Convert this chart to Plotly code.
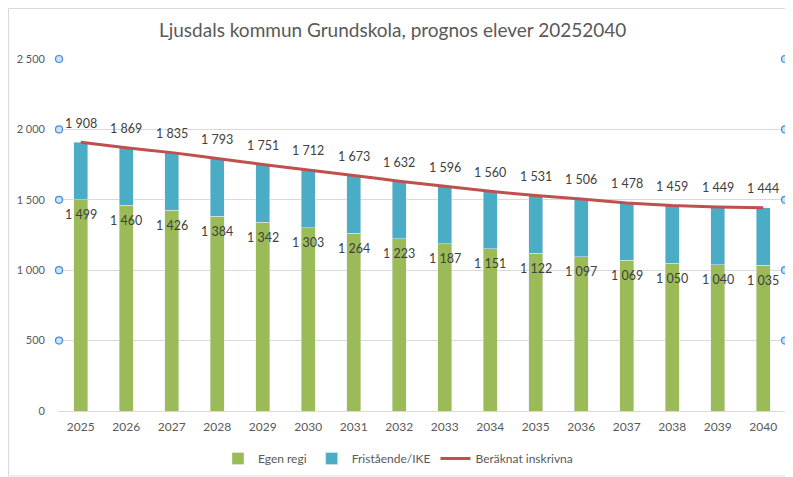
import plotly.graph_objects as go

years = [str(y) for y in range(2025, 2041)]
egen_regi = [1499, 1460, 1426, 1384, 1342, 1303, 1264, 1223, 1187, 1151, 1122, 1097, 1069, 1050, 1040, 1035]
total = [1908, 1869, 1835, 1793, 1751, 1712, 1673, 1632, 1596, 1560, 1531, 1506, 1478, 1459, 1449, 1444]
fristaende = [t - e for t, e in zip(total, egen_regi)]
y_ticks = [0, 500, 1000, 1500, 2000, 2500]
handle_levels = [500, 1000, 1500, 2000, 2500]

FONT = "Lato"
def fmt(v):
    return f"{v:,}".replace(",", " ")

fig = go.Figure()
fig.add_trace(go.Bar(x=years, y=egen_regi, name="Egen regi", marker_color="#9BBB59"))
fig.add_trace(go.Bar(x=years, y=fristaende, name="Fristående/IKE", marker_color="#4BACC6"))
fig.add_trace(go.Scatter(x=years, y=total, name="Beräknat inskrivna", mode="lines",
                         line=dict(color="#C0504D", width=3, shape="spline", smoothing=0.3)))
# selection handles (Excel artefact) on an overlay axis spanning the plot width
fig.add_trace(go.Scatter(x=[0.0014] * len(handle_levels) + [1.0027] * len(handle_levels),
                         y=handle_levels + handle_levels, xaxis="x2", mode="markers",
                         showlegend=False, hoverinfo="skip", cliponaxis=False,
                         marker=dict(size=7, color="#CFE3F7", line=dict(color="#3C8FDC", width=1.2))))

ann = []
for i, v in enumerate(total):
    ann.append(dict(x=i, y=v, text=fmt(v), showarrow=False, yshift=19,
                    font=dict(family=FONT, size=12.5, color="#404040")))
for i, v in enumerate(egen_regi):
    ann.append(dict(x=i, y=v, text=fmt(v), showarrow=False, yshift=-15,
                    font=dict(family=FONT, size=12.5, color="#404040")))

shapes = [dict(type="rect", xref="paper", yref="paper", x0=-0.068, x1=1.0082, y0=-0.1847, y1=1.1435,
               line=dict(color="#D9D9D9", width=1), layer="below")]

# page body has an 8px margin, so the figure is sized/positioned to compensate
fig.update_layout(
    width=785, height=469,
    margin=dict(l=50, r=7, t=51, b=66, autoexpand=False),
    paper_bgcolor="white", plot_bgcolor="white",
    barmode="stack", bargap=0.69,
    title=dict(text="Ljusdals kommun Grundskola, prognos elever 20252040", x=0.49, xanchor="center",
               y=1 - 22 / 469, yanchor="middle", automargin=False,
               font=dict(family=FONT, size=19, color="#595959")),
    font=dict(family=FONT, size=12, color="#595959"),
    legend=dict(orientation="h", x=0.467, xanchor="center", y=-0.135, yanchor="middle",
                font=dict(family=FONT, size=12, color="#595959"), traceorder="normal"),
    annotations=ann, shapes=shapes,
    separators=". ",
    xaxis2=dict(overlaying="x", range=[0, 1.004], visible=False),
    xaxis=dict(type="category", range=[-0.5, len(years) - 0.5], showline=True, linecolor="#D9D9D9",
               linewidth=1, showgrid=False, automargin=False, ticklabelstandoff=5,
               tickfont=dict(family=FONT, size=12, color="#595959"), ticks=""),
)
fig.update_yaxes(range=[0, 2500], tickvals=y_ticks, ticktext=[fmt(v) for v in y_ticks], automargin=False,
                 showgrid=True, gridcolor="#D9D9D9", gridwidth=1, zeroline=False,
                 tickfont=dict(family=FONT, size=11, color="#595959"), ticklabelstandoff=12)

fig.write_html("out.html")
